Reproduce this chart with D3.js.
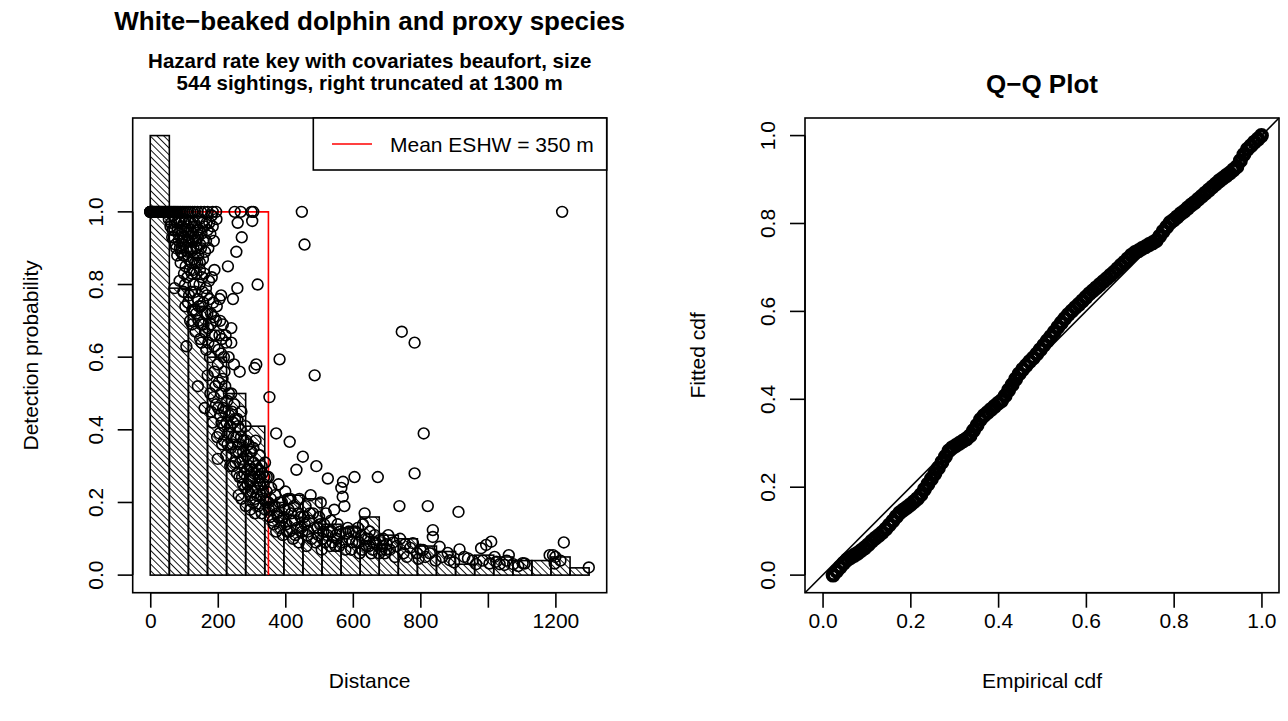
<!DOCTYPE html>
<html><head><meta charset="utf-8">
<script src="https://cdn.jsdelivr.net/npm/d3@7"></script>
<style>
body{margin:0;background:#fff}
svg{display:block}
text{font-family:"Liberation Sans",Arial,Helvetica,sans-serif;fill:#000}
</style>
</head><body>
<svg id="chart" width="1288" height="721"></svg>
<script>
// ---------------- DATA ----------------
const truncation = 1300;
const nBins = 23;
const barHeights = [1.21,0.79,0.74,0.60,0.50,0.41,0.20,0.22,0.21,0.14,0.13,0.16,0.11,0.10,0.08,0.065,0.03,0.055,0.05,0.04,0.04,0.05,0.02];
const meanESHW = 350;
const xTicksLeft = [0,200,400,600,800,1000,1200];
const xTickLabelsLeft = ["0","200","400","600","800","","1200"];
const yTicks = [0,0.2,0.4,0.6,0.8,1.0];
const yTickLabels = ["0.0","0.2","0.4","0.6","0.8","1.0"];
const qqTicks = [0,0.2,0.4,0.6,0.8,1.0];
const qqTickLabels = ["0.0","0.2","0.4","0.6","0.8","1.0"];

// distance (m), detection probability
const sightings = [
[0,1],[0,1],[0,1],[1,1],[3,1],[5,1],[8,1],[10,1],[12,1],[15,1],[18,1],[20,1],[23,1],[25,1],[28,1],[30,1],[33,1],[36,1],[40,1],[43,1],[46,1],[50,1],[53,1],[56,1],[60,1],[64,1],[68,1],[72,1],[76,1],[80,1],[85,1],[90,1],[95,1],[100,1],[106,1],[112,1],[118,1],[125,1],[132,1],[140,1],[150,1],[160,1],[170,1],[185,1],[195,1],[250,1],[268,1],[300,1],[305,1],[449,1],[1220,1],
[55,0.98],[60,0.96],[65,0.93],[68,0.99],[72,0.95],[75,0.91],[78,0.97],[80,0.88],[83,0.94],[86,0.98],[88,0.9],[90,0.86],[92,0.95],[95,0.92],[97,0.88],[100,0.97],[102,0.93],[105,0.85],[108,0.9],[110,0.96],[113,0.87],[115,0.92],[118,0.95],[120,0.89],[123,0.83],[126,0.94],[128,0.9],[130,0.97],[133,0.86],[136,0.92],[139,0.95],[142,0.88],[145,0.98],[148,0.91],[152,0.94],[156,0.87],[160,0.96],[165,0.92],[170,0.95],[175,0.97],[185,0.96],[190,0.84],[205,0.76],[210,0.77],[230,0.85],[245,0.76],[255,0.89],[258,0.79],[259,0.97],[271,0.93],[302,0.975],[318,0.80],[457,0.91],
[62,0.97],[66,0.95],[70,0.93],[74,0.98],[77,0.9],[81,0.95],[84,0.92],[87,0.97],[91,0.89],[94,0.96],[96,0.93],[99,0.91],[101,0.88],[103,0.98],[107,0.95],[109,0.92],[111,0.89],[114,0.97],[117,0.93],[119,0.9],[121,0.97],[124,0.92],[127,0.96],[129,0.87],[131,0.93],[134,0.96],[137,0.9],[141,0.93],[144,0.95],[147,0.86],[150,0.9],[154,0.97],[158,0.92],[162,0.89],[167,0.97],[172,0.9],[178,0.94],[182,0.99],[188,0.92],[196,0.98],
[72,0.79],[87,0.81],[93,0.9],[98,0.78],[104,0.74],[107,0.63],[110,0.82],[115,0.77],[118,0.7],[122,0.86],[125,0.73],[128,0.8],[131,0.73],[134,0.67],[137,0.83],[140,0.76],[143,0.7],[146,0.8],[148,0.65],[150,0.74],[152,0.64],[155,0.78],[158,0.69],[160,0.83],[163,0.72],[166,0.62],[168,0.77],[171,0.68],[174,0.81],[177,0.6],[180,0.72],[183,0.66],[186,0.75],[190,0.63],[195,0.7],[200,0.58],[205,0.66],[210,0.61],[215,0.69],[220,0.56],[225,0.64],[232,0.6],[240,0.68],[240,0.64],[248,0.58],[265,0.56],[309,0.57],[314,0.58],
[100,0.83],[103,0.8],[112,0.75],[117,0.84],[121,0.78],[124,0.69],[127,0.84],[132,0.78],[136,0.72],[139,0.86],[144,0.74],[147,0.84],[151,0.69],[154,0.82],[157,0.75],[162,0.67],[165,0.79],[169,0.72],[172,0.64],[176,0.76],[179,0.69],[182,0.82],[188,0.71],[192,0.66],[197,0.74],[202,0.62],[207,0.7],[212,0.65],[218,0.6],[223,0.66],
[141,0.52],[161,0.46],[170,0.55],[178,0.5],[185,0.42],[190,0.56],[195,0.47],[198,0.38],[200,0.32],[203,0.53],[207,0.44],[210,0.5],[213,0.36],[216,0.46],[219,0.41],[222,0.52],[225,0.33],[228,0.48],[231,0.39],[234,0.44],[237,0.3],[240,0.5],[243,0.36],[246,0.42],[249,0.47],[252,0.31],[255,0.38],[258,0.43],[261,0.34],[264,0.27],[267,0.4],[270,0.45],[273,0.32],[276,0.37],[279,0.28],[282,0.41],[285,0.33],[288,0.25],[291,0.36],[294,0.3],[297,0.22],[300,0.34],[303,0.27],[306,0.31],[309,0.24],[312,0.37],[316,0.29],[320,0.26],[324,0.33],[328,0.22],[332,0.28],[336,0.25],[340,0.31],[345,0.23],[350,0.27],[353,0.49],[373,0.39],[383,0.594],[413,0.367],
[180,0.45],[188,0.49],[193,0.52],[201,0.46],[205,0.39],[211,0.42],[214,0.54],[218,0.37],[221,0.45],[226,0.42],[229,0.36],[233,0.5],[236,0.41],[239,0.35],[242,0.45],[245,0.3],[248,0.38],[251,0.43],[254,0.34],[257,0.28],[260,0.41],[263,0.36],[266,0.31],[269,0.38],[272,0.27],[275,0.34],[278,0.3],[281,0.24],[284,0.37],[287,0.29],[290,0.32],[293,0.26],[296,0.34],[299,0.29],[302,0.23],[305,0.35],[308,0.28],[311,0.21],[314,0.3],[318,0.24],[322,0.29],[326,0.27],[330,0.3],[334,0.23],[338,0.27],[343,0.2],
[262,0.22],[270,0.21],[275,0.25],[283,0.19],[290,0.23],[296,0.18],[300,0.26],[305,0.2],[310,0.17],[315,0.22],[320,0.19],[325,0.25],[330,0.17],[335,0.21],[340,0.18],[345,0.27],[350,0.2],[355,0.16],[358,0.24],[362,0.19],[366,0.14],[370,0.22],[375,0.17],[380,0.25],[385,0.13],[390,0.2],[395,0.16],[400,0.23],[405,0.12],[410,0.18],[415,0.21],[420,0.15],[425,0.19],[430,0.11],[433,0.29],[438,0.17],[442,0.21],[447,0.13],[452,0.326],[455,0.16],[460,0.19],[465,0.11],[470,0.15],[475,0.22],[482,0.17],[487,0.55],[492,0.3],[495,0.13],[500,0.16],[505,0.2],[510,0.1],[515,0.14],[520,0.17],[526,0.266],[530,0.12],[535,0.15],[540,0.09],[545,0.18],[550,0.11],[555,0.14],[560,0.08],[566,0.24],[570,0.216],[571,0.257],[575,0.19],[580,0.115],[585,0.13],[590,0.1],[595,0.07],[600,0.12],[605,0.27],[610,0.09],[615,0.13],[620,0.06],[625,0.11],[630,0.14],[635,0.17],[640,0.08],[645,0.1],[650,0.12],[655,0.06],[660,0.09],[665,0.11],[674,0.27],[680,0.097],[685,0.07],[690,0.1],[695,0.06],[700,0.085],[705,0.11],[710,0.07],[720,0.09],[725,0.05],[730,0.08],[738,0.19],[740,0.1],[745,0.67],[750,0.06],[755,0.085],[760,0.05],[770,0.075],[778,0.088],[783,0.64],[783,0.28],[790,0.06],[795,0.045],[800,0.07],[808,0.069],[810,0.39],[815,0.05],[822,0.19],[828,0.06],[837,0.124],[837,0.105],[845,0.04],[857,0.078],[865,0.05],[881,0.061],[887,0.041],[900,0.035],[913,0.174],[916,0.071],[930,0.05],[941,0.046],[955,0.04],[965,0.03],[980,0.074],[985,0.04],[995,0.083],[1005,0.032],[1010,0.092],[1020,0.05],[1025,0.037],[1035,0.03],[1049,0.028],[1055,0.04],[1062,0.055],[1075,0.03],[1090,0.025],[1103,0.033],[1109,0.032],[1183,0.055],[1193,0.055],[1198,0.032],[1200,0.05],[1215,0.04],[1225,0.09],[1299,0.021],
[352,0.18],[357,0.21],[363,0.15],[368,0.19],[373,0.12],[378,0.16],[383,0.2],[388,0.15],[393,0.11],[398,0.18],[403,0.14],[408,0.21],[413,0.12],[418,0.17],[423,0.1],[428,0.15],[435,0.13],[440,0.09],[445,0.16],[450,0.12],[458,0.14],[463,0.08],[468,0.12],[473,0.17],[478,0.1],[485,0.13],[490,0.09],[498,0.11],[503,0.14],[508,0.07],[513,0.12],[518,0.09],[525,0.11],[533,0.08],[538,0.12],[548,0.08],[553,0.1],[563,0.12],[568,0.09],[578,0.07],[588,0.12],[598,0.09],[608,0.12],[618,0.09],[628,0.07],[638,0.1],[648,0.08],[658,0.07],[668,0.09],[678,0.06],[688,0.08],[698,0.07]
];

const qqEmpirical = [0.024,0.032,0.040,0.048,0.056,0.064,0.072,0.080,0.088,0.096,0.104,0.112,0.120,0.128,0.136,0.144,0.152,0.160,0.168,0.176,0.184,0.192,0.200,0.208,0.216,0.224,0.232,0.240,0.248,0.256,0.264,0.272,0.280,0.288,0.296,0.304,0.312,0.320,0.328,0.336,0.344,0.352,0.360,0.368,0.376,0.384,0.392,0.400,0.408,0.416,0.424,0.432,0.440,0.448,0.456,0.464,0.472,0.480,0.488,0.496,0.504,0.512,0.520,0.528,0.536,0.544,0.552,0.560,0.568,0.576,0.584,0.592,0.600,0.608,0.616,0.624,0.632,0.640,0.648,0.656,0.664,0.672,0.680,0.688,0.696,0.704,0.712,0.720,0.728,0.736,0.744,0.752,0.760,0.768,0.776,0.784,0.792,0.800,0.808,0.816,0.824,0.832,0.840,0.848,0.856,0.864,0.872,0.880,0.888,0.896,0.904,0.912,0.920,0.928,0.936,0.944,0.952,0.960,0.968,0.976,0.984,0.992,1.000];
const qqFitted = [0.000,0.009,0.018,0.027,0.035,0.040,0.045,0.050,0.056,0.062,0.069,0.077,0.084,0.090,0.097,0.105,0.114,0.123,0.133,0.142,0.148,0.154,0.160,0.167,0.174,0.183,0.195,0.207,0.219,0.231,0.244,0.257,0.270,0.283,0.290,0.295,0.300,0.305,0.310,0.317,0.329,0.341,0.354,0.363,0.370,0.377,0.384,0.391,0.397,0.408,0.421,0.433,0.446,0.458,0.468,0.477,0.486,0.494,0.503,0.513,0.523,0.533,0.543,0.553,0.564,0.574,0.584,0.593,0.601,0.609,0.616,0.624,0.632,0.640,0.647,0.654,0.661,0.668,0.675,0.682,0.689,0.697,0.705,0.712,0.720,0.728,0.734,0.738,0.743,0.747,0.752,0.756,0.761,0.771,0.782,0.792,0.802,0.808,0.815,0.822,0.828,0.835,0.842,0.848,0.855,0.862,0.869,0.876,0.883,0.890,0.897,0.903,0.909,0.915,0.922,0.929,0.943,0.957,0.969,0.977,0.985,0.992,1.000];

// ---------------- LAYOUT ----------------
const svg = d3.select("#chart");
const F = 21;             // base font size
const LW = 1.6;           // line width
const TICK = 15;
const boxTop = 118, boxBottom = 592.7;
const L = {left:132.7, right:606.7};
const R = {left:805, right:1279};

const binW = truncation / nBins;
const bins = barHeights.map((h,i)=>({x0:i*binW, x1:(i+1)*binW, h}));
const yMax = d3.max(barHeights);

const xL = d3.scaleLinear().domain([-0.04*truncation, 1.04*truncation]).range([L.left, L.right]);
const yL = d3.scaleLinear().domain([-0.04*yMax, 1.04*yMax]).range([boxBottom, boxTop]);
const xR = d3.scaleLinear().domain([-0.04, 1.04]).range([R.left, R.right]);
const yR = d3.scaleLinear().domain([-0.04, 1.04]).range([boxBottom, boxTop]);

// hatch pattern
const defs = svg.append("defs");
defs.append("pattern").attr("id","hatch").attr("patternUnits","userSpaceOnUse")
  .attr("width",4.8).attr("height",10).attr("patternTransform","rotate(-45)")
  .append("line").attr("x1",0).attr("y1",0).attr("x2",0).attr("y2",10)
  .attr("stroke","#000").attr("stroke-width",1.8);

// ---- LEFT PANEL ----
const gL = svg.append("g");
gL.selectAll("rect.bar").data(bins).join("rect")
  .attr("class","bar")
  .attr("x",d=>xL(d.x0)).attr("width",d=>xL(d.x1)-xL(d.x0))
  .attr("y",d=>yL(d.h)).attr("height",d=>yL(0)-yL(d.h))
  .attr("fill","url(#hatch)").attr("stroke","#000").attr("stroke-width",LW);

// red ESHW line
gL.append("path")
  .attr("d", d3.line()([[xL(0),yL(1)],[xL(meanESHW),yL(1)],[xL(meanESHW),yL(0)]]))
  .attr("fill","none").attr("stroke","#ff0000").attr("stroke-width",LW);

gL.selectAll("circle").data(sightings).join("circle")
  .attr("cx",d=>xL(d[0])).attr("cy",d=>yL(d[1])).attr("r",5.4)
  .attr("fill","none").attr("stroke","#000").attr("stroke-width",LW);

// box
function box(g, x0, x1){
  g.append("rect").attr("x",x0).attr("y",boxTop).attr("width",x1-x0).attr("height",boxBottom-boxTop)
    .attr("fill","none").attr("stroke","#000").attr("stroke-width",LW);
}
box(gL, L.left, L.right);

// legend
const lg = gL.append("g");
lg.append("rect").attr("x",313.3).attr("y",boxTop).attr("width",L.right-313.3).attr("height",52)
  .attr("fill","#fff").attr("stroke","#000").attr("stroke-width",LW);
lg.append("line").attr("x1",332).attr("x2",372).attr("y1",144).attr("y2",144)
  .attr("stroke","#ff0000").attr("stroke-width",LW);
lg.append("text").attr("x",390).attr("y",151.5).attr("font-size",F).text("Mean ESHW = " + meanESHW + " m");

// axes
function xAxis(g, scale, ticks, labels){
  const a = d3.axisBottom(scale).tickValues(ticks).tickSize(TICK).tickPadding(5)
    .tickFormat((d,i)=>labels[i]);
  const ag = g.append("g").attr("transform",`translate(0,${boxBottom})`).call(a);
  ag.select(".domain").attr("d",`M${scale(ticks[0])},0H${scale(ticks[ticks.length-1])}`);
  ag.selectAll("path,line").attr("stroke","#000").attr("stroke-width",LW);
  ag.selectAll("text").attr("font-size",F).attr("font-family","Liberation Sans, Arial, sans-serif").attr("fill","#000");
}
function yAxis(g, scale, x0, ticks, labels){
  const a = d3.axisLeft(scale).tickValues(ticks).tickSize(TICK).tickFormat((d,i)=>labels[i]);
  const ag = g.append("g").attr("transform",`translate(${x0},0)`).call(a);
  ag.select(".domain").attr("d",`M0,${scale(ticks[0])}V${scale(ticks[ticks.length-1])}`);
  ag.selectAll("path,line").attr("stroke","#000").attr("stroke-width",LW);
  ag.selectAll("text")
    .attr("font-size",F).attr("font-family","Liberation Sans, Arial, sans-serif").attr("fill","#000")
    .attr("x",null).attr("dy",null)
    .attr("text-anchor","middle")
    .attr("transform",d=>`translate(-30,${scale(d)}) rotate(-90)`)
    .attr("y",0);
  ag.selectAll(".tick").attr("transform",null);
  ag.selectAll(".tick line").attr("y1",d=>scale(d)).attr("y2",d=>scale(d));
}
xAxis(gL, xL, xTicksLeft, xTickLabelsLeft);
yAxis(gL, yL, L.left, yTicks, yTickLabels);

// titles
gL.append("text").attr("x",(L.left+L.right)/2).attr("y",30).attr("text-anchor","middle")
  .attr("font-size",26).attr("font-weight","bold").text("White\u2212beaked dolphin and proxy species");
gL.append("text").attr("x",(L.left+L.right)/2).attr("y",68).attr("text-anchor","middle")
  .attr("font-size",20.5).attr("font-weight","bold").text("Hazard rate key with covariates beaufort, size");
gL.append("text").attr("x",(L.left+L.right)/2).attr("y",90).attr("text-anchor","middle")
  .attr("font-size",20.5).attr("font-weight","bold").text("544 sightings, right truncated at 1300 m");
gL.append("text").attr("x",(L.left+L.right)/2).attr("y",688).attr("text-anchor","middle")
  .attr("font-size",F).text("Distance");
gL.append("text").attr("transform",`translate(38,${(boxTop+boxBottom)/2}) rotate(-90)`)
  .attr("text-anchor","middle").attr("font-size",F).text("Detection probability");

// ---- RIGHT PANEL ----
const gR = svg.append("g");
gR.append("line").attr("x1",xR(-0.04)).attr("y1",yR(-0.04)).attr("x2",xR(1.04)).attr("y2",yR(1.04))
  .attr("stroke","#000").attr("stroke-width",LW);
gR.selectAll("circle").data(qqEmpirical.map((e,i)=>[e,qqFitted[i]])).join("circle")
  .attr("cx",d=>xR(d[0])).attr("cy",d=>yR(d[1])).attr("r",5.3)
  .attr("fill","none").attr("stroke","#000").attr("stroke-width",4.4);
box(gR, R.left, R.right);
xAxis(gR, xR, qqTicks, qqTickLabels);
yAxis(gR, yR, R.left, qqTicks, qqTickLabels);
gR.append("text").attr("x",(R.left+R.right)/2).attr("y",93).attr("text-anchor","middle")
  .attr("font-size",26).attr("font-weight","bold").text("Q\u2212Q Plot");
gR.append("text").attr("x",(R.left+R.right)/2).attr("y",688).attr("text-anchor","middle")
  .attr("font-size",F).text("Empirical cdf");
gR.append("text").attr("transform",`translate(705,${(boxTop+boxBottom)/2}) rotate(-90)`)
  .attr("text-anchor","middle").attr("font-size",F).text("Fitted cdf");
</script>
</body></html>
